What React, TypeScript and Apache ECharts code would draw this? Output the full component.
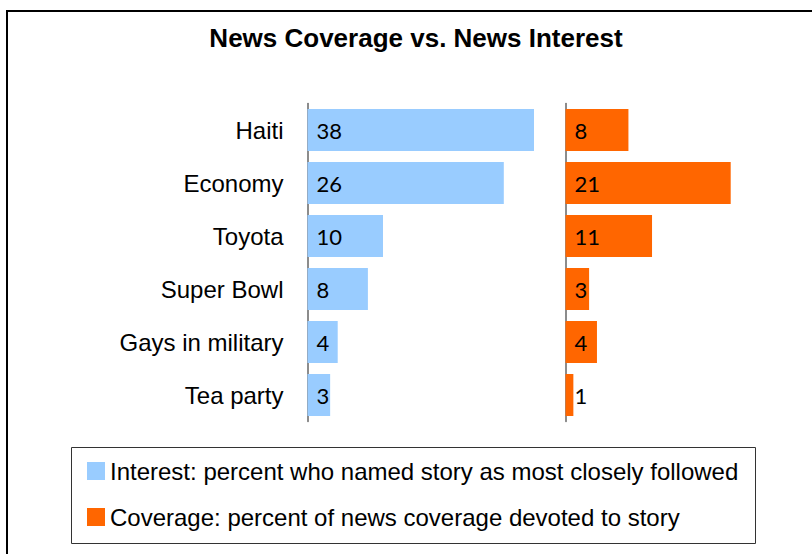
import React, { useEffect, useRef } from "react";
import * as echarts from "echarts";

const categories = ["Haiti", "Economy", "Toyota", "Super Bowl", "Gays in military", "Tea party"];
const interestValues = [38, 26, 10, 8, 4, 3];
const coverageValues = [8, 21, 11, 3, 4, 1];
const interestName = "Interest: percent who named story as most closely followed";
const coverageName = "Coverage: percent of news coverage devoted to story";
const titleText = "News Coverage vs. News Interest";

export default function App() {
  const ref = useRef<HTMLDivElement>(null);
  useEffect(() => {
    document.body.style.margin = "0";
    const chart = echarts.init(ref.current!, null, { renderer: "svg" });
    const labelCfg = {
      show: true,
      position: "insideLeft",
      distance: 9,
      color: "#000",
      fontFamily: "Lato",
      fontSize: 22,
    };
    chart.setOption({
      animation: false,
      backgroundColor: "#fff",
      title: {
        text: titleText,
        left: 416,
        textAlign: "center",
        top: 25,
        padding: 0,
        textStyle: { fontFamily: "Liberation Sans", fontWeight: "bold", fontSize: 26, color: "#000" },
      },
      legend: {
        orient: "vertical",
        left: 87,
        top: 459,
        padding: 0,
        itemWidth: 18,
        itemHeight: 18,
        itemGap: 22,
        icon: "rect",
        data: [interestName, coverageName],
        textStyle: { fontFamily: "Liberation Sans", fontSize: 24, color: "#000" },
      },
      graphic: [
        {
          type: "rect",
          shape: { x: 7, y: 11, width: 830, height: 570 },
          style: { fill: "none", stroke: "#000", lineWidth: 2 },
          silent: true,
        },
        {
          type: "rect",
          shape: { x: 71.5, y: 447.5, width: 684, height: 96 },
          style: { fill: "none", stroke: "#333", lineWidth: 1 },
          silent: true,
        },
      ],
      grid: [
        { left: 307.5, top: 103.5, width: 226.5, height: 318, containLabel: false },
        { left: 565.5, top: 103.5, width: 236, height: 318, containLabel: false },
      ],
      xAxis: [
        { type: "value", gridIndex: 0, min: 0, max: 30, show: false },
        { type: "value", gridIndex: 1, min: 0, max: 30, show: false },
      ],
      yAxis: [
        {
          type: "category",
          gridIndex: 0,
          data: categories,
          inverse: true,
          axisLine: { show: true, lineStyle: { color: "#666", width: 1.5 } },
          axisTick: { show: false },
          axisLabel: {
            margin: 24,
            fontFamily: "Liberation Sans",
            fontSize: 24,
            color: "#000",
            padding: [0, 0, 5, 0],
          },
        },
        {
          type: "category",
          gridIndex: 1,
          data: categories,
          inverse: true,
          axisLine: { show: true, lineStyle: { color: "#666", width: 1.5 } },
          axisTick: { show: false },
          axisLabel: { show: false },
        },
      ],
      series: [
        {
          name: interestName,
          type: "bar",
          xAxisIndex: 0,
          yAxisIndex: 0,
          data: interestValues,
          barWidth: 42,
          clip: true,
          itemStyle: { color: "#99CCFF" },
          label: labelCfg,
        },
        {
          name: coverageName,
          type: "bar",
          xAxisIndex: 1,
          yAxisIndex: 1,
          data: coverageValues,
          barWidth: 42,
          clip: true,
          itemStyle: { color: "#FF6600" },
          label: labelCfg,
        },
      ],
    });
    return () => chart.dispose();
  }, []);
  return <div ref={ref} style={{ width: 812, height: 554 }} />;
}
